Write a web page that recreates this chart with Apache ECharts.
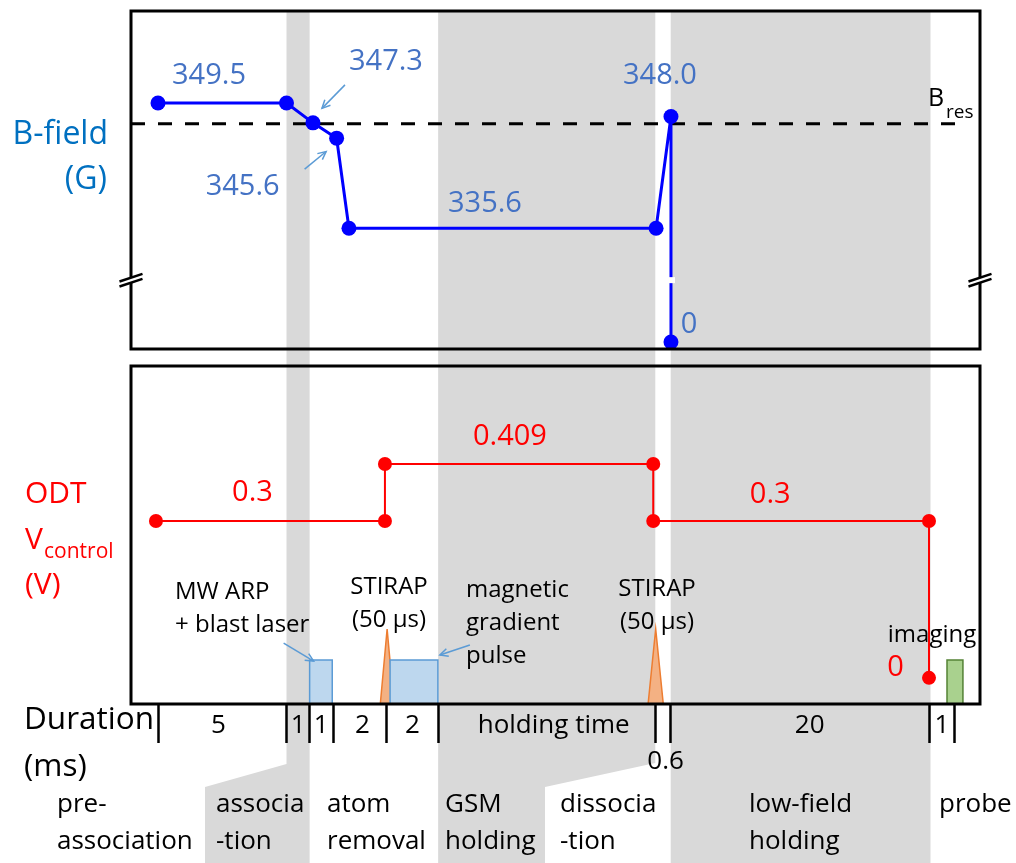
<!DOCTYPE html>
<html>
<head>
<meta charset="utf-8">
<script src="https://cdn.jsdelivr.net/npm/echarts@6/dist/echarts.min.js"></script>
<style>
html,body{margin:0;padding:0;background:#ffffff;}
#c{width:1016px;height:863px;}
</style>
</head>
<body>
<div id="c"></div>
<script>
// ---------------- DATA ----------------
// schematic time axis: segment boundaries and their duration labels
const segBounds = [0, 5, 5.9, 6.8, 8.9, 10.9, 19.35, 19.95, 30, 31];
const segLabels = ['5', '1', '1', '2', '2', 'holding time', '0.6', '20', '1'];

// B-field (G)
const bTimes  = [0, 5, 6.03, 6.95, 7.43, 19.38, 19.96, 19.96];
const bValues = [349.5, 349.5, 347.3, 345.6, 335.6, 335.6, 348.0, 0];
const bRes = 347.2;

// ODT control voltage (V)
const odtTimes  = [-0.08, 8.83, 8.83, 19.27, 19.27, 30, 30];
const odtValues = [0.3, 0.3, 0.409, 0.409, 0.3, 0.3, 0];

// pulses in the lower panel
const pulseStart = [5.9, 8.65, 9.03, 19.07, 30.7];
const pulseEnd   = [6.78, 9.18, 10.89, 19.66, 31.32];
const pulseTop   = [0.034, 0.0934, 0.034, 0.0934, 0.034];
const pulseKind  = ['blue', 'orange', 'blue', 'orange', 'green'];

// phases
const phaseNames = [['pre-', 'association'], ['associa', '-tion'], ['atom', 'removal'],
  ['GSM', 'holding'], ['dissocia', '-tion'], ['low-field', 'holding'], ['probe']];

// ---------------- LAYOUT / STYLE ----------------
const FONT = 'Open Sans';
const XMIN = -1.0506, XMAX = 31.984;
const Y0MIN = 322.21, Y0MAX = 359.71;
const Y1MIN = -0.05, Y1MAX = 0.5964;
const ZERO_DISPLAY = 322.99;   // where B = 0 is drawn below the axis break
const BREAK_VALUE = 329.85;    // axis break location
const BRES_END = 31.2;
const bDisp = v => (v === 0 ? ZERO_DISPLAY : v);

const mids = segBounds.slice(0, -1).map((b, i) => (b + segBounds[i + 1]) / 2);
const labelNudge = [-0.15, 0, 0, 0.1, 0, 0.27, 0.1, 0.38, 0];
const labelPos = mids.map((m, i) => m + labelNudge[i]);

const pulseStyles = {
  blue:   { fill: '#BDD7EE', stroke: '#5B9BD5' },
  orange: { fill: '#F4B183', stroke: '#ED7D31' },
  green:  { fill: '#A9D18E', stroke: '#548235' }
};

const option = {
  animation: false,
  backgroundColor: '#ffffff',
  grid: [
    { left: 131, top: 11, width: 849, height: 338 },
    { left: 131, top: 366, width: 849, height: 338 }
  ],
  xAxis: [
    { type: 'value', gridIndex: 0, min: XMIN, max: XMAX, show: false },
    {
      type: 'value', gridIndex: 1, min: XMIN, max: XMAX, z: 30, position: 'bottom',
      splitLine: { show: false },
      axisLine: { show: false, onZero: false },
      axisTick: { show: true, customValues: segBounds, length: 39, inside: false,
        lineStyle: { color: '#000', width: 2.5 } },
      axisLabel: { show: false }
    }
  ],
  yAxis: [
    { type: 'value', gridIndex: 0, min: Y0MIN, max: Y0MAX, show: false },
    { type: 'value', gridIndex: 1, min: Y1MIN, max: Y1MAX, show: false }
  ],
  series: [
    {
      type: 'line', xAxisIndex: 0, yAxisIndex: 0, z: 4, silent: true,
      data: [[XMIN, bRes], [BRES_END, bRes]], symbol: 'none',
      lineStyle: { color: '#000', width: 3, type: [14, 13] }
    },
    {
      type: 'line', xAxisIndex: 0, yAxisIndex: 0, z: 5,
      data: bTimes.map((t, i) => [t, bDisp(bValues[i])]),
      symbol: 'circle', symbolSize: 15,
      lineStyle: { color: '#0000FF', width: 3 },
      itemStyle: { color: '#0000FF' }
    },
    {
      type: 'line', xAxisIndex: 1, yAxisIndex: 1, z: 5,
      data: odtTimes.map((t, i) => [t, odtValues[i]]),
      symbol: 'circle', symbolSize: 14,
      lineStyle: { color: '#FF0000', width: 2 },
      itemStyle: { color: '#FF0000' }
    },
    {
      type: 'custom', xAxisIndex: 1, yAxisIndex: 1, z: 4,
      data: pulseStart.map((s, i) => [s, pulseEnd[i], pulseTop[i]]),
      encode: { x: [0, 1], y: 2 },
      renderItem: (params, api) => {
        const i = params.dataIndex;
        const s = api.value(0), e = api.value(1), h = api.value(2);
        const a = api.coord([s, Y1MIN]), b = api.coord([e, h]);
        const st = pulseStyles[pulseKind[i]];
        if (pulseKind[i] === 'orange') {
          const m = api.coord([(s + e) / 2, h]);
          return { type: 'polygon', shape: { points: [[a[0], a[1]], [b[0], a[1]], [m[0], m[1]]] },
            style: { fill: st.fill, stroke: st.stroke, lineWidth: 1.5 } };
        }
        return { type: 'rect', shape: { x: a[0], y: b[1], width: b[0] - a[0], height: a[1] - b[1] },
          style: { fill: st.fill, stroke: st.stroke, lineWidth: 1.5 } };
      }
    }
  ]
};

const chart = echarts.init(document.getElementById('c'));
chart.setOption(option);

const P = (g, x, y) => chart.convertToPixel({ gridIndex: g }, [x, y]);

function txt(x, y, text, size, color, align, extra) {
  return { type: 'text', x: x, y: y, z: 20,
    style: Object.assign({ text: text, fontSize: size, fontFamily: FONT, fill: color,
      align: align || 'center', verticalAlign: 'middle' }, extra || {}) };
}
function arrow(x1, y1, x2, y2, color) {
  const ang = Math.atan2(y2 - y1, x2 - x1), L = 9, w = 0.45;
  const h1 = [x2 - L * Math.cos(ang - w), y2 - L * Math.sin(ang - w)];
  const h2 = [x2 - L * Math.cos(ang + w), y2 - L * Math.sin(ang + w)];
  return [
    { type: 'line', z: 20, shape: { x1, y1, x2, y2 }, style: { stroke: color, lineWidth: 1.5 } },
    { type: 'polyline', z: 20, shape: { points: [h1, [x2, y2], h2] }, style: { stroke: color, lineWidth: 1.5, fill: null } }
  ];
}

const g = [];
const tl0 = P(0, XMIN, Y0MAX), br0 = P(0, XMAX, Y0MIN);
const tl1 = P(1, XMIN, Y1MAX), br1 = P(1, XMAX, Y1MIN);
const TOPY = tl0[1], BOT = 863;
const GRAY = '#D9D9D9';

// gray phase bands
const b1a = P(1, segBounds[1], 0)[0], b1b = P(1, segBounds[2], 0)[0];
const b2a = P(1, segBounds[5], 0)[0], b2b = P(1, segBounds[6], 0)[0];
const b3a = P(1, segBounds[7], 0)[0], b3b = P(1, segBounds[8], 0)[0];
g.push({ type: 'polygon', z: -1, shape: { points: [[b1a, TOPY], [b1b, TOPY], [b1b, BOT], [205, BOT], [205, 787], [b1a, 764]] }, style: { fill: GRAY } });
g.push({ type: 'polygon', z: -1, shape: { points: [[b2a, TOPY], [b2b, TOPY], [b2b, 763], [545, 787], [545, BOT], [b2a, BOT]] }, style: { fill: GRAY } });
g.push({ type: 'rect', z: -1, shape: { x: b3a, y: TOPY, width: b3b - b3a + 1.5, height: BOT - TOPY }, style: { fill: GRAY } });

// frames
g.push({ type: 'rect', z: 50, shape: { x: tl0[0], y: tl0[1], width: br0[0] - tl0[0], height: br0[1] - tl0[1] }, style: { fill: null, stroke: '#000', lineWidth: 3 } });
g.push({ type: 'rect', z: 50, shape: { x: tl1[0], y: tl1[1], width: br1[0] - tl1[0], height: br1[1] - tl1[1] }, style: { fill: null, stroke: '#000', lineWidth: 3 } });

// duration labels along the schematic time axis
const axisY = br1[1];
segLabels.forEach((t, i) => {
  const px = P(1, labelPos[i], 0)[0];
  g.push(txt(px, i === 6 ? axisY + 58 : axisY + 22, t, 26, '#000', 'center'));
});

// axis break marks
const by = P(0, XMIN, BREAK_VALUE)[1];
[tl0[0], br0[0]].forEach(cx => {
  const dx = 11.5, dy = 3.8, s = 2.5;
  g.push({ type: 'polygon', z: 51, shape: { points: [[cx - dx, by - s + dy], [cx + dx, by - s - dy], [cx + dx, by + s - dy], [cx - dx, by + s + dy]] }, style: { fill: '#fff' } });
  g.push({ type: 'line', z: 52, shape: { x1: cx - dx, y1: by - s + dy, x2: cx + dx, y2: by - s - dy }, style: { stroke: '#000', lineWidth: 2.5 } });
  g.push({ type: 'line', z: 52, shape: { x1: cx - dx, y1: by + s + dy, x2: cx + dx, y2: by + s - dy }, style: { stroke: '#000', lineWidth: 2.5 } });
});
// gap in the vertical B line at the break
const vx = P(0, bTimes[6], 0)[0];
g.push({ type: 'rect', z: 20, shape: { x: vx - 4, y: by - 3, width: 8, height: 6 }, style: { fill: '#fff' } });

// B-field value labels
const BLUE_T = '#4472C4';
const bLab = [[0, 51, -27], [2, 73, -61], [3, -94, 49], [4, 136, -25], [6, -11, -41], [7, 18, -17]];
bLab.forEach(([i, ox, oy]) => {
  const p = P(0, bTimes[i], bDisp(bValues[i]));
  const t = bValues[i] === 0 ? '0' : bValues[i].toFixed(1);
  g.push(txt(p[0] + ox, p[1] + oy, t, 29, BLUE_T));
});
// ODT value labels
const oLab = [[0, 96.5, -28], [2, 125, -27], [4, 117, -26], [6, -33.5, -10]];
oLab.forEach(([i, ox, oy]) => {
  const p = P(1, odtTimes[i], odtValues[i]);
  g.push(txt(p[0] + ox, p[1] + oy, String(odtValues[i]), 29, '#FF0000'));
});

// B_res label
g.push(txt(928, 99, 'B', 25, '#000', 'left'));
g.push(txt(946, 113, 'res', 19, '#000', 'left'));

// arrows
const ARC = '#5B9BD5';
const p2 = P(0, bTimes[2], bValues[2]), p3 = P(0, bTimes[3], bValues[3]);
g.push(...arrow(p2[0] + 32, p2[1] - 38, p2[0] + 9, p2[1] - 14.5, ARC));
g.push(...arrow(p3[0] - 32, p3[1] + 31, p3[0] - 10.5, p3[1] + 13.3, ARC));
const mw = P(1, pulseStart[0], pulseTop[0]), mg = P(1, pulseEnd[2], pulseTop[2]);
g.push(...arrow(mw[0] - 26, mw[1] - 17, mw[0] + 4, mw[1] + 1, ARC));
g.push(...arrow(mg[0] + 32, mg[1] - 15, mg[0] + 2, mg[1] - 5, ARC));

// pulse annotations (y = centre of first line)
const LH = 33;
function multi(x, y, text, align) {
  return txt(x, y - LH / 2, text, 24, '#000', align, { lineHeight: LH, verticalAlign: 'top' });
}
g.push(multi(175, 592, 'MW ARP\n+ blast laser', 'left'));
g.push(multi(389, 587, 'STIRAP\n(50 µs)', 'center'));
g.push(multi(466, 590, 'magnetic\ngradient\npulse', 'left'));
g.push(multi(657, 589, 'STIRAP\n(50 µs)', 'center'));
g.push(txt(932, 635, 'imaging', 24, '#000', 'center'));

// axis titles
g.push(txt(108, 135, 'B-field', 32, '#0070C0', 'right'));
g.push(txt(107, 180, '(G)', 32, '#0070C0', 'right'));
g.push(txt(25, 494, 'ODT', 30, '#FF0000', 'left'));
g.push(txt(25, 540, 'V', 30, '#FF0000', 'left'));
g.push(txt(44, 552, 'control', 21, '#FF0000', 'left'));
g.push(txt(25, 585, '(V)', 30, '#FF0000', 'left'));
g.push(txt(24, 720, 'Duration', 31.5, '#000', 'left'));
g.push(txt(24, 767, '(ms)', 31.5, '#000', 'left'));

// phase labels
const phaseX = [57, 216, 327, 445, 560, 749, 939];
phaseNames.forEach((lines, i) => {
  lines.forEach((t, j) => g.push(txt(phaseX[i], 805 + j * 37, t, 26, '#000', 'left')));
});

chart.setOption({ graphic: { elements: g } });
</script>
</body>
</html>
